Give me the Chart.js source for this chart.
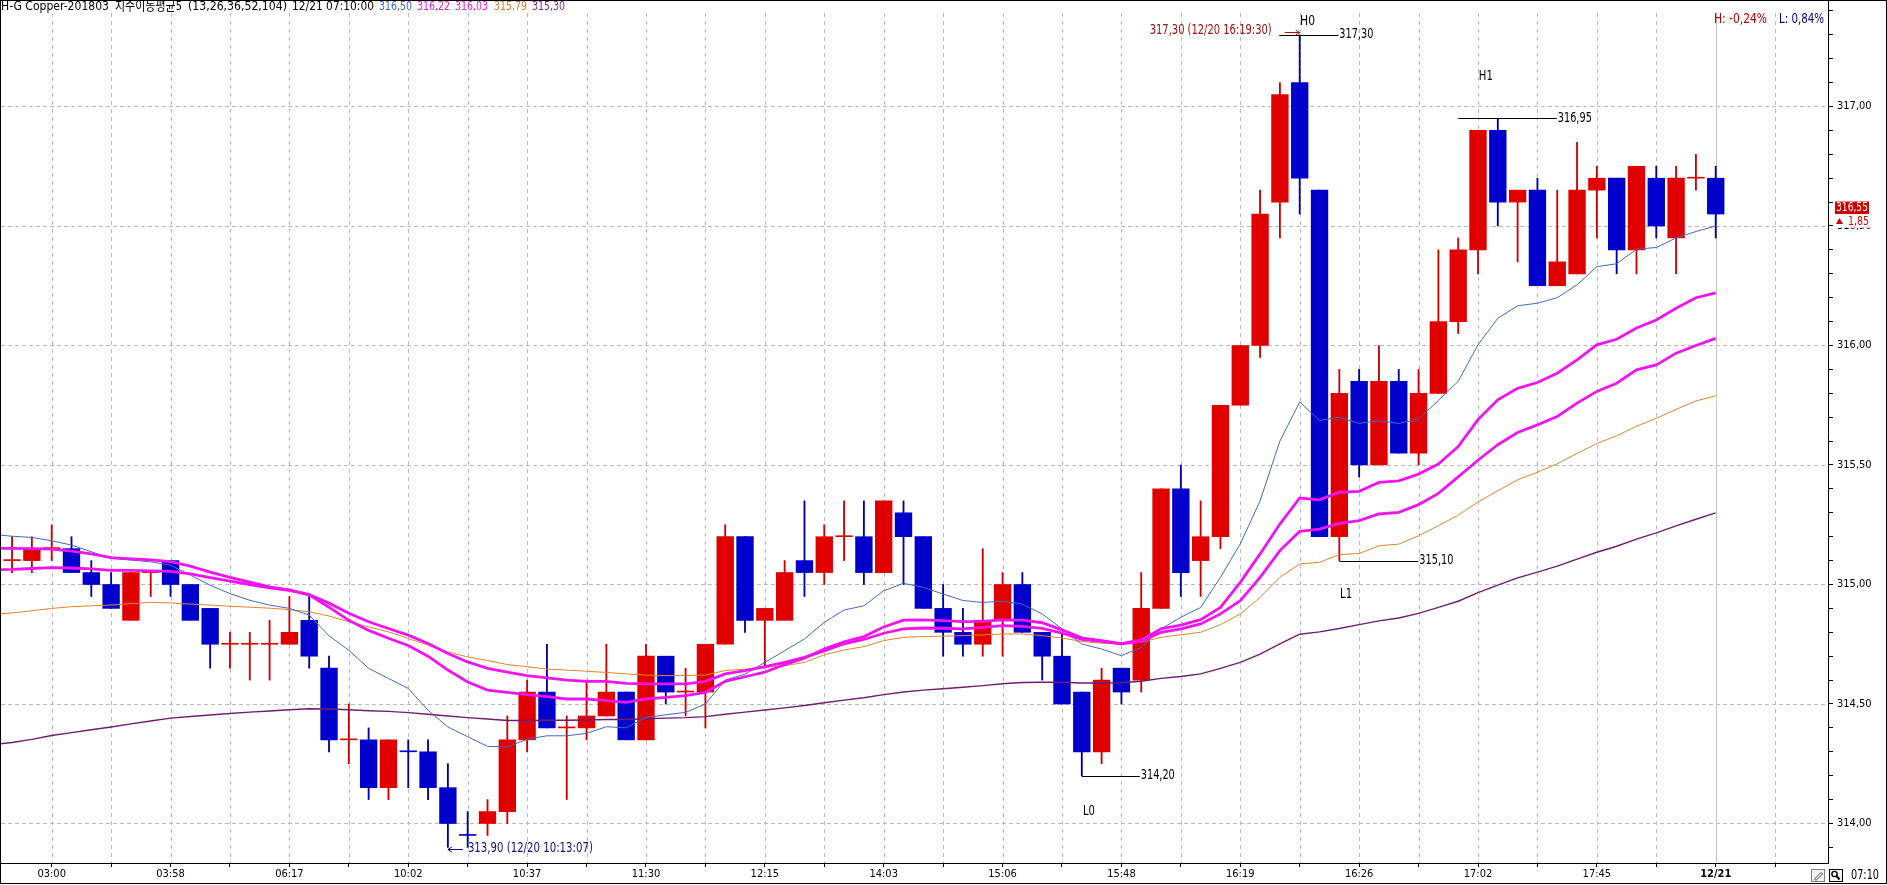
<!DOCTYPE html>
<html>
<head>
<meta charset="utf-8">
<script src="https://cdn.jsdelivr.net/npm/chart.js@4.4.1/dist/chart.umd.min.js"></script>
<style>
html,body{margin:0;padding:0;background:#fff;overflow:hidden}
#wrap{position:relative;width:1887px;height:885px}
canvas{display:block}
</style>
</head>
<body>
<div id="wrap"><canvas id="c" width="1887" height="885"></canvas></div>
<script>
// ---------------- DATA ----------------
const xTickLabels = ['03:00','03:58','06:17','10:02','10:37','11:30','12:15','14:03','15:06','15:48','16:19','16:26','17:02','17:45','12/21'];

const opens = [
 315.10,315.10,315.15,315.15,315.05,315.00,314.85,315.05,315.10,315.00,
 314.90,314.75,314.75,314.75,314.75,314.85,314.65,314.35,314.35,314.15,
 314.30,314.30,314.15,313.95,314.00,314.05,314.35,314.55,314.40,314.40,
 314.45,314.55,314.35,314.70,314.55,314.55,314.75,315.20,314.85,314.85,
 315.10,315.05,315.20,315.20,315.05,315.30,315.20,314.90,314.80,314.75,
 314.85,315.00,314.80,314.70,314.55,314.30,314.65,314.60,314.90,315.40,
 315.10,315.20,315.75,316.00,316.60,317.10,316.65,315.20,315.85,315.50,
 315.85,315.55,315.80,316.10,316.40,316.90,316.60,316.65,316.25,316.30,
 316.65,316.70,316.40,316.70,316.45,316.70,316.70];
const highs = [
 315.20,315.20,315.25,315.20,315.10,315.05,315.05,315.05,315.10,315.00,
 314.90,314.80,314.80,314.85,314.95,314.95,314.70,314.50,314.40,314.35,
 314.35,314.35,314.25,314.05,314.10,314.45,314.60,314.75,314.45,314.60,
 314.75,314.55,314.75,314.70,314.65,314.75,315.25,315.20,314.90,315.10,
 315.35,315.25,315.35,315.35,315.35,315.35,315.20,315.00,314.90,315.15,
 315.05,315.05,314.80,314.80,314.55,314.65,314.65,315.05,315.40,315.50,
 315.35,315.75,316.00,316.65,317.10,317.30,316.65,315.90,315.90,316.00,
 315.90,315.90,316.40,316.45,316.90,316.95,316.65,316.70,316.65,316.85,
 316.75,316.70,316.75,316.75,316.75,316.80,316.75];
const lows = [
 315.05,315.05,315.10,315.05,314.95,314.90,314.85,314.95,314.95,314.85,
 314.65,314.65,314.60,314.60,314.75,314.65,314.30,314.25,314.10,314.10,
 314.15,314.10,313.90,313.90,313.95,314.00,314.30,314.40,314.10,314.35,
 314.45,314.35,314.35,314.50,314.45,314.40,314.75,314.80,314.65,314.85,
 314.95,315.00,315.10,315.00,315.05,315.00,314.90,314.70,314.70,314.70,
 314.70,314.80,314.60,314.50,314.20,314.25,314.50,314.55,314.90,314.95,
 314.95,315.15,315.75,315.95,316.45,316.55,315.20,315.10,315.45,315.50,
 315.55,315.50,315.80,316.05,316.30,316.50,316.35,316.25,316.25,316.30,
 316.45,316.30,316.30,316.45,316.30,316.65,316.45];
const closes = [
 315.10,315.15,315.15,315.05,315.00,314.90,315.05,315.05,315.00,314.85,
 314.75,314.75,314.75,314.75,314.80,314.70,314.35,314.35,314.15,314.35,
 314.30,314.15,314.00,313.95,314.05,314.35,314.55,314.40,314.40,314.45,
 314.55,314.35,314.70,314.55,314.55,314.75,315.20,314.85,314.90,315.05,
 315.05,315.20,315.20,315.05,315.35,315.20,314.90,314.80,314.75,314.85,
 315.00,314.80,314.70,314.50,314.30,314.60,314.55,314.90,315.40,315.05,
 315.20,315.75,316.00,316.55,317.05,316.70,315.20,315.80,315.50,315.85,
 315.55,315.80,316.10,316.40,316.90,316.60,316.65,316.25,316.35,316.65,
 316.70,316.40,316.75,316.50,316.70,316.70,316.55];

// moving averages, first value = bar before the first visible candle
const ema13 = [
 315.210, 315.202,315.197,315.183,315.165,315.137,315.109,315.102,315.095,315.081,315.039,
 314.997,314.962,314.934,314.914,314.900,314.872,314.785,314.725,314.649,314.607,
 314.565,314.474,314.404,314.363,314.323,314.320,314.353,314.367,314.367,314.377,
 314.405,314.400,314.444,314.455,314.465,314.500,314.600,314.625,314.674,314.723,
 314.772,314.842,314.893,314.911,314.974,315.005,314.988,314.960,314.933,314.925,
 314.930,314.918,314.877,314.814,314.751,314.730,314.702,314.737,314.814,314.863,
 314.904,315.030,315.170,315.350,315.600,315.764,315.686,315.700,315.674,315.685,
 315.674,315.692,315.770,315.850,316.003,316.114,316.166,316.177,316.200,316.254,
 316.330,316.342,316.403,316.410,316.450,316.477,316.500];
const ema26 = [
 315.152, 315.151,315.150,315.148,315.140,315.128,315.112,315.107,315.103,315.096,315.077,
 315.052,315.030,315.010,314.990,314.977,314.957,314.905,314.850,314.808,314.775,
 314.745,314.700,314.642,314.592,314.558,314.549,314.539,314.531,314.521,314.521,
 314.514,314.507,314.521,314.528,314.535,314.549,314.595,314.614,314.633,314.665,
 314.692,314.730,314.760,314.782,314.822,314.851,314.852,314.849,314.845,314.846,
 314.852,314.851,314.840,314.810,314.777,314.765,314.753,314.768,314.815,314.830,
 314.853,314.904,315.009,315.128,315.253,315.362,315.354,315.386,315.390,315.427,
 315.434,315.462,315.504,315.577,315.690,315.773,315.821,315.845,315.884,315.940,
 316.003,316.026,316.073,316.107,316.156,316.200,316.220];
const ema36 = [
 315.062, 315.063,315.067,315.071,315.069,315.065,315.059,315.059,315.057,315.055,315.044,
 315.029,315.014,315.000,314.986,314.975,314.958,314.922,314.880,314.844,314.816,
 314.788,314.753,314.711,314.676,314.649,314.633,314.619,314.609,314.600,314.595,
 314.595,314.586,314.584,314.584,314.584,314.595,314.626,314.640,314.656,314.674,
 314.695,314.722,314.752,314.770,314.796,314.814,314.818,314.817,314.814,314.821,
 314.828,314.825,314.816,314.797,314.770,314.762,314.752,314.762,314.800,314.814,
 314.835,314.877,314.932,315.030,315.142,315.222,315.232,315.256,315.267,315.295,
 315.302,315.334,315.381,315.450,315.520,315.585,315.636,315.668,315.703,315.759,
 315.808,315.842,315.898,315.919,315.968,316.000,316.030];
const ema52 = [
 314.875, 314.881,314.890,314.900,314.907,314.911,314.914,314.920,314.925,314.923,314.918,
 314.914,314.909,314.905,314.901,314.895,314.886,314.868,314.844,314.823,314.802,
 314.774,314.746,314.718,314.697,314.682,314.665,314.656,314.646,314.642,314.637,
 314.632,314.626,314.621,314.619,314.619,314.621,314.640,314.646,314.653,314.660,
 314.674,314.706,314.726,314.740,314.765,314.779,314.782,314.784,314.786,314.789,
 314.793,314.793,314.786,314.776,314.762,314.754,314.751,314.758,314.779,314.790,
 314.800,314.832,314.877,314.946,315.030,315.086,315.093,315.125,315.130,315.162,
 315.169,315.204,315.246,315.290,315.345,315.392,315.438,315.470,315.505,315.548,
 315.590,315.622,315.662,315.695,315.733,315.768,315.790];
const ema104 = [
 314.330, 314.339,314.352,314.368,314.380,314.392,314.404,314.417,314.429,314.441,314.448,
 314.454,314.460,314.466,314.471,314.476,314.480,314.479,314.476,314.472,314.469,
 314.464,314.457,314.450,314.443,314.437,314.431,314.431,314.432,314.432,314.433,
 314.435,314.435,314.438,314.441,314.443,314.447,314.457,314.466,314.475,314.484,
 314.494,314.505,314.516,314.526,314.539,314.550,314.558,314.564,314.570,314.577,
 314.585,314.590,314.591,314.591,314.588,314.588,314.589,314.595,314.607,314.615,
 314.626,314.649,314.674,314.709,314.752,314.792,314.802,314.816,314.832,314.848,
 314.860,314.879,314.904,314.930,314.966,314.997,315.028,315.052,315.077,315.106,
 315.135,315.160,315.190,315.216,315.245,315.273,315.300];

// swing points: [name, candle index, is high]
const pivots = [['H0',65,true],['H1',75,true],['L0',54,false],['L1',67,false]];
const dayChange = '1,85';
const highTime = '12/20 16:19:30';
const lowTime = '12/20 10:13:07';
const headerTitle = 'H-G Copper-201803';
const headerStudy = '지수이동평균5';
const headerParams = '(13,26,36,52,104)';
const headerTime = '12/21 07:10:00';
const lastTime = '07:10';

// ---------------- FONTS ----------------
function hasFont(name){
  const c = document.createElement('canvas').getContext('2d');
  const s = '0123456789,:abcdefghijklmnop';
  c.font = '40px monospace'; const a = c.measureText(s).width;
  c.font = "40px '" + name + "', monospace"; const b = c.measureText(s).width;
  c.font = '40px serif'; const a2 = c.measureText(s).width;
  c.font = "40px '" + name + "', serif"; const b2 = c.measureText(s).width;
  return Math.abs(a-b) > 0.5 || Math.abs(a2-b2) > 0.5;
}
let FAM, AXS;
if (hasFont('Liberation Sans Narrow')) { FAM = "'Liberation Sans Narrow'"; AXS = 14; }
else if (hasFont('DejaVu Sans Condensed')) { FAM = "'DejaVu Sans Condensed'"; AXS = 11; }
else { FAM = "'Liberation Sans'"; AXS = 11.5; }
const FONT_STACK = FAM + ", 'Noto Sans CJK KR', sans-serif";

// ---------------- HELPERS ----------------
const N = opens.length;
const lastIdx = N - 1;
const isUp = i => closes[i] > opens[i] ? true : closes[i] < opens[i] ? false : (i === 0 || closes[i] >= closes[i-1]);
const UP = '#E00000', DOWN = '#0000CC', UPW = '#D00000', DOWNW = '#0000A8';
const fmt = v => v.toFixed(2).replace('.', ',');

const bodyData = opens.map((o,i) => ({x:i, y:[Math.min(o,closes[i]), Math.max(o,closes[i])]}));
const wickData = opens.map((o,i) => ({x:i, y:[lows[i], highs[i]]}));
const bodyColors = opens.map((o,i) => isUp(i) ? UP : DOWN);
const wickColors = opens.map((o,i) => isUp(i) ? UPW : DOWNW);
const toLine = arr => arr.map((v,k) => ({x:k-1, y:v}));

const xGridVals = []; for (let v = 2; v <= lastIdx + 3; v += 3) xGridVals.push(v);
const yTickVals = []; for (let k = 3139; k <= 3174; k++) yTickVals.push(k/10);

// axis ranges (pixel calibration of the reference)
const PX0 = 12.06, DXP = 19.81, PPU = 239, Y317 = 106.5;
const XMIN = (1 - PX0) / DXP, XMAX = XMIN + 1827 / DXP;
const YMAX = 317 + (Y317 - 1) / PPU, YMIN = YMAX - 862 / PPU;

function fitText(ctx, text, x, y, w, size, color, weight){
  ctx.save();
  ctx.font = (weight || 'normal') + ' ' + size + 'px ' + FONT_STACK;
  ctx.fillStyle = color; ctx.textBaseline = 'middle'; ctx.textAlign = 'left';
  const m = ctx.measureText(text).width || 1;
  ctx.translate(x, y); ctx.scale(w / m, 1);
  ctx.fillText(text, 0, 0);
  ctx.restore();
}
function hline(ctx, x1, x2, y, color){
  ctx.save(); ctx.strokeStyle = color; ctx.lineWidth = 1; ctx.setLineDash([]);
  const yy = Math.round(y) + 0.5;
  ctx.beginPath(); ctx.moveTo(x1, yy); ctx.lineTo(x2, yy); ctx.stroke(); ctx.restore();
}

// ---------------- PLUGIN ----------------
const overlay = {
  id: 'overlay',
  beforeDatasetsDraw(chart){
    const {ctx, chartArea:a, scales:{x, y}} = chart;
    ctx.save();
    ctx.lineWidth = 1;
    ctx.strokeStyle = '#BBBBBB';
    ctx.setLineDash([4,3]);
    yTickVals.forEach(v => {
      if (Math.round(v*10) % 5 !== 0) return;
      const py = Math.round(y.getPixelForValue(v)) + 0.5;
      ctx.beginPath(); ctx.moveTo(a.left, py); ctx.lineTo(a.right, py); ctx.stroke();
    });
    xGridVals.forEach(v => {
      const px = Math.round(x.getPixelForValue(v)) + 0.5;
      if (v === lastIdx) { ctx.setLineDash([]); ctx.strokeStyle = '#C4C4C4'; }
      else { ctx.setLineDash([4,4]); ctx.strokeStyle = '#BBBBBB'; }
      ctx.beginPath(); ctx.moveTo(px, a.top + 12); ctx.lineTo(px, a.bottom); ctx.stroke();
    });
    ctx.restore();
  },
  afterDraw(chart){
    const {ctx, chartArea:a, scales:{x, y}} = chart;
    const P = i => x.getPixelForValue(i);
    const V = v => y.getPixelForValue(v);

    // header
    const hy = 6.5;
    fitText(ctx, headerTitle, 1, hy, 108, 13, '#000');
    fitText(ctx, headerStudy, 115, hy, 67, 13, '#000');
    fitText(ctx, headerParams, 188, hy, 99, 13, '#000');
    fitText(ctx, headerTime, 292, hy, 82, 13, '#000');
    const hv = [[ema13,'#3C64C8',379],[ema26,'#E01CE0',417],[ema36,'#E01CE0',455],[ema52,'#D2782D',494],[ema104,'#7D1E7D',532]];
    hv.forEach(([arr,col,x0]) => fitText(ctx, fmt(arr[arr.length-1]), x0, hy, 33, 13, col));

    // H / L percent
    const hiAll = Math.max(...highs), loAll = Math.min(...lows), last = closes[lastIdx];
    fitText(ctx, 'H: ' + fmt((last - hiAll) / hiAll * 100) + '%', 1714, 19.5, 53, 14, '#C00000');
    fitText(ctx, 'L: ' + fmt((last - loAll) / loAll * 100) + '%', 1779, 19.5, 45, 14, '#000090');

    // swing pivots
    const spec = {
      H0: {l:-20.4, r:38.6, lx:0.3, ly:-13.5, lw:15},
      H1: {l:-39.5, r:59, lx:-19, ly:-42.5, lw:14},
      L0: {l:0, r:58, lx:1.2, ly:36, lw:12},
      L1: {l:0, r:79, lx:0.7, ly:33.4, lw:12}
    };
    pivots.forEach(([name, i, isHigh]) => {
      const s = spec[name];
      const px = P(i), val = isHigh ? highs[i] : lows[i], py = V(val);
      hline(ctx, px + s.l, px + s.r, py, '#000');
      fitText(ctx, fmt(val), px + s.r + 1, py, 34, 14, '#000');
      fitText(ctx, name, px + s.lx, py + s.ly, s.lw, 14, '#000');
    });

    // highest price time label with arrow
    const iHi = highs.indexOf(hiAll), pHi = P(iHi);
    fitText(ctx, fmt(hiAll) + ' (' + highTime + ')', pHi - 150, 30.5, 122, 14, '#A01010');
    ctx.save(); ctx.strokeStyle = '#B01010'; ctx.lineWidth = 1;
    ctx.beginPath(); ctx.moveTo(pHi - 15, 32.5); ctx.lineTo(pHi, 32.5);
    ctx.moveTo(pHi - 4, 30); ctx.lineTo(pHi, 32.5); ctx.lineTo(pHi - 4, 35); ctx.stroke(); ctx.restore();

    // lowest price time label with arrow
    const iLo = lows.indexOf(loAll), pLo = P(iLo), yLo = V(loAll) + 2;
    ctx.save(); ctx.strokeStyle = '#101080'; ctx.lineWidth = 1;
    ctx.beginPath(); ctx.moveTo(pLo, Math.round(yLo) + 0.5); ctx.lineTo(pLo + 15, Math.round(yLo) + 0.5);
    ctx.moveTo(pLo + 4, Math.round(yLo) - 2); ctx.lineTo(pLo, Math.round(yLo) + 0.5); ctx.lineTo(pLo + 4, Math.round(yLo) + 3); ctx.stroke(); ctx.restore();
    fitText(ctx, fmt(loAll) + ' (' + lowTime + ')', pLo + 20, yLo - 1, 125, 14, '#101080');

    // current price box
    const pyc = V(last);
    ctx.fillStyle = '#CC0000';
    ctx.fillRect(1835, pyc - 12.5, 34, 12.5);
    fitText(ctx, fmt(last), 1836, pyc - 6, 32, 13, '#FFFFFF');
    ctx.fillStyle = '#FFFFFF';
    ctx.fillRect(1833, pyc + 0.5, 40, 13);
    ctx.fillStyle = '#D00000';
    ctx.beginPath(); ctx.moveTo(1836, pyc + 10); ctx.lineTo(1843, pyc + 10); ctx.lineTo(1839.5, pyc + 4); ctx.closePath(); ctx.fill();
    fitText(ctx, dayChange, 1848, pyc + 7.5, 21, 13, '#D00000');

    // bottom right: icons and time
    ctx.save();
    ctx.lineWidth = 1;
    ctx.fillStyle = '#F2F2F2'; ctx.fillRect(1811.5, 869.5, 13, 12);
    ctx.strokeStyle = '#808080'; ctx.strokeRect(1811.5, 869.5, 13, 12);
    ctx.strokeStyle = '#505050';
    ctx.beginPath(); ctx.moveTo(1814.5, 879); ctx.lineTo(1821, 872.5); ctx.lineTo(1822.5, 874); ctx.lineTo(1816, 880.5); ctx.closePath(); ctx.stroke();
    ctx.fillStyle = '#F2F2F2'; ctx.fillRect(1829.5, 869.5, 13, 12);
    ctx.strokeStyle = '#000'; ctx.strokeRect(1829.5, 869.5, 13, 12);
    ctx.lineWidth = 1.4;
    ctx.beginPath(); ctx.arc(1834.5, 874, 2.6, 0, Math.PI * 2); ctx.stroke();
    ctx.lineWidth = 2;
    ctx.beginPath(); ctx.moveTo(1836.5, 876); ctx.lineTo(1839.5, 879.5); ctx.stroke();
    ctx.restore();
    fitText(ctx, lastTime, 1851, 875.5, 28, 14, '#000');

    // frame
    ctx.save(); ctx.strokeStyle = '#000'; ctx.lineWidth = 1; ctx.setLineDash([]);
    ctx.strokeRect(0.5, 0.5, 1886, 883);
    ctx.restore();
  }
};

// ---------------- CHART ----------------
const lineDs = (label, arr, color, w, order) => ({
  type:'line', label, data: toLine(arr), borderColor: color, backgroundColor: color,
  borderWidth: w, pointRadius: 0, pointHoverRadius: 0, tension: 0, fill: false, order
});

new Chart(document.getElementById('c'), {
  type: 'bar',
  data: {
    datasets: [
      lineDs('EMA26', ema26, '#F014F0', 2.8, 1),
      lineDs('EMA36', ema36, '#F014F0', 2.8, 2),
      lineDs('EMA13', ema13, '#4468C4', 1, 3),
      lineDs('EMA52', ema52, '#E0842E', 1, 4),
      lineDs('EMA104', ema104, '#6E1E6E', 1.4, 5),
      {label:'body', data: bodyData, backgroundColor: bodyColors, borderWidth: 0,
       barThickness: 16.7, grouped: false, minBarLength: 1, order: 10},
      {label:'wick', data: wickData, backgroundColor: wickColors, borderWidth: 0,
       barThickness: 1.2, grouped: false, order: 11}
    ]
  },
  options: {
    responsive: false, animation: false, devicePixelRatio: 1,
    layout: {padding: {left: 1, top: 1, right: 0, bottom: 0}},
    plugins: {legend: {display: false}, tooltip: {enabled: false}, title: {display: false}},
    events: [],
    scales: {
      x: {
        type: 'linear', min: XMIN, max: XMAX, offset: false, position: 'bottom',
        grid: {display: true, drawOnChartArea: false, drawTicks: true, tickLength: 4, tickColor: '#000', offset: false},
        border: {display: true, color: '#000', width: 1},
        ticks: {
          autoSkip: false, maxRotation: 0, minRotation: 0, padding: 1, color: '#000',
          font: c => ({family: FONT_STACK, size: AXS, weight: (c.tick && c.tick.value === lastIdx) ? 'bold' : 'normal'}),
          callback: v => ((v - 2) % 6 === 0 && xTickLabels[(v - 2) / 6]) ? xTickLabels[(v - 2) / 6] : ''
        },
        afterBuildTicks: s => { s.ticks = xGridVals.map(v => ({value: v})); },
        afterFit: s => { s.height = 22; s.paddingLeft = 0; s.paddingRight = 0; }
      },
      y: {
        type: 'linear', position: 'right', min: YMIN, max: YMAX,
        grid: {display: true, drawOnChartArea: false, drawTicks: true, tickLength: 5, tickColor: '#000'},
        border: {display: true, color: '#000', width: 1},
        ticks: {
          padding: 4, color: '#000', font: {family: FONT_STACK, size: AXS},
          callback: v => (Math.round(v * 10) % 5 === 0) ? fmt(v) : ''
        },
        afterBuildTicks: s => { s.ticks = yTickVals.map(v => ({value: v})); },
        afterFit: s => { s.width = 59; s.paddingTop = 0; s.paddingBottom = 0; }
      }
    }
  },
  plugins: [overlay]
});
</script>
</body>
</html>
